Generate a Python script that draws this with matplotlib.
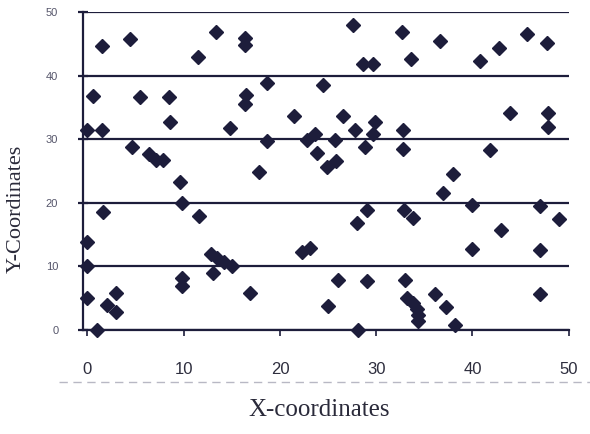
import matplotlib
matplotlib.use("Agg")
import matplotlib.pyplot as plt
from matplotlib.lines import Line2D

# scanned scatter: point coordinates
x_coords = [0, 1.5, 0.6, 1.5, 4.4, 5.5, 8.5, 8.6, 11.5, 13.4,
            16.4, 16.4, 16.5, 16.4, 14.8, 4.6, 6.4, 7.1, 7.8, 9.6,
            9.8, 11.6, 1.6, 0, 0, 0, 1, 3, 2, 3,
            9.8, 9.8, 13, 12.8, 13.5, 14.2, 15, 16.9, 17.8, 18.7,
            18.7, 21.5, 22.3, 23.1, 22.8, 23.6, 23.8, 24.5, 24.9, 25.8,
            25.7, 26.5, 26, 25, 27.6, 28.6, 29.7, 27.8, 29.9, 29.7,
            28.8, 29, 28, 29, 28.1, 32.7, 33.6, 32.8, 32.8, 32.9,
            33.8, 33, 33.2, 33.8, 34.2, 34.3, 34.3, 36.6, 38, 36.9,
            36.1, 37.3, 38.2, 40, 40, 40.8, 41.8, 42.8, 43, 43.9,
            45.7, 47.7, 47.8, 47.8, 47, 47, 47, 49]
y_coords = [31.5, 31.5, 36.8, 44.6, 45.7, 36.7, 36.7, 32.7, 42.9, 46.9,
            45.9, 44.9, 36.9, 35.6, 31.8, 28.7, 27.6, 26.8, 26.8, 23.3,
            19.9, 17.9, 18.6, 13.9, 10, 5, 0, 5.8, 3.9, 2.8,
            8.2, 6.9, 9, 11.9, 11.3, 10.7, 10.1, 5.8, 24.8, 38.9,
            29.7, 33.7, 12.3, 12.9, 29.8, 30.8, 27.8, 38.6, 25.7, 26.6,
            29.8, 33.7, 7.9, 3.8, 48, 41.8, 41.8, 31.5, 32.7, 30.8,
            28.7, 18.8, 16.8, 7.7, 0, 46.8, 42.6, 31.5, 28.4, 18.9,
            17.6, 7.8, 5, 4.2, 3.3, 2.3, 1.4, 45.4, 24.6, 21.6,
            5.7, 3.6, 0.7, 19.6, 12.7, 42.3, 28.3, 44.4, 15.7, 34.2,
            46.5, 45.2, 34.2, 32, 19.5, 12.5, 5.6, 17.4]

x_ticks = [0, 10, 20, 30, 40, 50]
y_ticks = [0, 10, 20, 30, 40, 50]

ink = "#1d1d3b"

fig = plt.figure(figsize=(5.9, 4.34), dpi=100)
ax = fig.add_axes([0.140, 0.240, 0.824, 0.732])

ax.plot(x_coords, y_coords, linestyle="none", marker="D", markersize=7,
        color=ink, clip_on=False, zorder=3)

ax.set_xlim(-0.5, 50)
ax.set_ylim(0, 50)
ax.set_xticks(x_ticks)
ax.set_yticks(y_ticks)

# horizontal rules at every y tick
ax.grid(axis="y", color=ink, linewidth=1.6)
ax.grid(axis="x", visible=False)
ax.set_axisbelow(True)

for side in ["top", "right"]:
    ax.spines[side].set_visible(False)
ax.spines["left"].set_color(ink)
ax.spines["bottom"].set_color(ink)
ax.spines["left"].set_linewidth(1.6)
ax.spines["bottom"].set_linewidth(1.6)

ax.tick_params(axis="x", direction="out", length=4, width=1.2, color=ink,
               pad=19, labelsize=12, labelcolor="#2e2e3e")
ax.tick_params(axis="y", direction="inout", length=7, width=1.6, color=ink,
               pad=14, labelsize=8, labelcolor="#55556a")
for lbl in ax.get_xticklabels() + ax.get_yticklabels():
    lbl.set_family("Liberation Sans")

ax.set_xlabel("X-coordinates", family="Liberation Serif", fontsize=18,
              color="#2a2a3a")
ax.xaxis.set_label_coords(0.487, -0.217)
ax.set_ylabel("Y-Coordinates", family="Liberation Serif", fontsize=16,
              color="#2a2a3a")
ax.yaxis.set_label_coords(-0.116, 0.38)

# faint scan line under the tick labels
fig.add_artist(Line2D([0.10, 1.0], [0.12, 0.12], transform=fig.transFigure,
                      color="#b8b8c4", linewidth=1.0, linestyle=(0, (6, 4))))

fig.savefig("out.png", dpi=100)
